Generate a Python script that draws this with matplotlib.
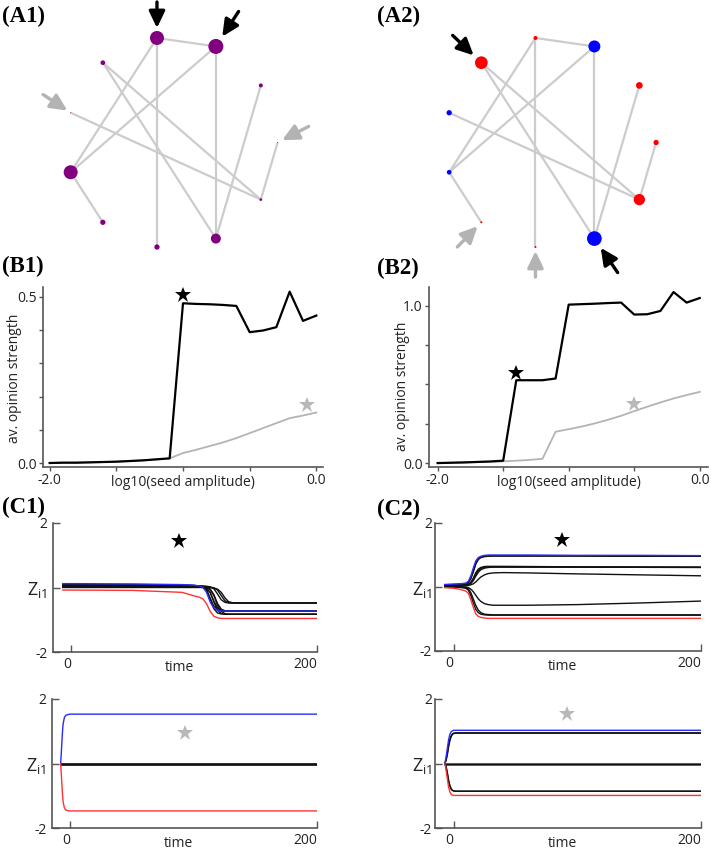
import numpy as np
import matplotlib
matplotlib.use("Agg")
import matplotlib.pyplot as plt

plt.rcParams['font.family'] = ['Open Sans', 'DejaVu Sans']
plt.rcParams['mathtext.fontset'] = 'custom'
plt.rcParams['mathtext.rm'] = 'Open Sans'

W, H = 711, 850

# ---------------- network data ----------------
n_nodes = 11
edges = [(0, 1), (0, 8), (0, 6), (1, 8), (1, 5), (10, 4), (10, 5), (9, 4), (3, 4), (2, 5), (8, 7)]
a1_sizes = [14, 15, 4, 1, 2.7, 10, 5.3, 5.3, 14, 1, 4.7]          # node diameters (px)
a1_colors = ['purple'] * 11
a2_sizes = [4, 12, 6.7, 5.3, 11.3, 14.7, 2, 2, 4.7, 5.3, 12.7]
a2_colors = ['red', 'blue', 'red', 'red', 'red', 'blue', 'red', 'red', 'blue', 'blue', 'red']
# arrows: (node, direction deg, gap px, length px, kind)
a1_arrows = [(0, 90, 10, 26, 'k'), (1, 57, 11.7, 30, 'k'), (9, 146.6, 4, 29, 'g'), (3, 27.4, 5, 30, 'g')]
a2_arrows = [(10, 136.4, 10.6, 29, 'k'), (5, -55.6, 11.2, 30, 'k'), (7, -134.2, 5.4, 29, 'g'), (6, -90, 4, 26, 'g')]

# ---------------- B panels data ----------------
x_amp = [-2.0, -1.9, -1.8, -1.7, -1.6, -1.5, -1.4, -1.3, -1.2, -1.1, -1.0,
         -0.9, -0.8, -0.7, -0.6, -0.5, -0.4, -0.3, -0.2, -0.1, 0.0]
b1_black = [0.000, 0.001, 0.001, 0.002, 0.003, 0.004, 0.006, 0.008, 0.011, 0.014, 0.481,
            0.479, 0.478, 0.476, 0.473, 0.394, 0.399, 0.409, 0.516, 0.428, 0.444]
b1_gray = [0.000, 0.001, 0.001, 0.002, 0.003, 0.004, 0.006, 0.008, 0.011, 0.014, 0.030,
           0.040, 0.051, 0.062, 0.075, 0.090, 0.105, 0.120, 0.135, 0.143, 0.152]
b2_black = [0.000, 0.002, 0.004, 0.007, 0.010, 0.015, 0.526, 0.526, 0.526, 0.537, 1.006,
            1.009, 1.012, 1.016, 1.019, 0.943, 0.945, 0.966, 1.086, 1.019, 1.048]
b2_gray = [0.000, 0.002, 0.004, 0.006, 0.008, 0.011, 0.015, 0.020, 0.027, 0.199, 0.215,
           0.232, 0.252, 0.275, 0.300, 0.330, 0.358, 0.385, 0.410, 0.432, 0.452]
b1_star_black = (-1.0, 0.506)
b1_star_gray = (-0.07, 0.175)
b2_star_black = (-1.4, 0.573)
b2_star_gray = (-0.5, 0.378)

# ---------------- C panels data ----------------
t_c1a = [-7, 0, 50, 90, 100, 104, 107, 110, 113, 116, 119, 122, 125, 128, 131, 134, 140, 200]
c1a_blue = [0.12, 0.12, 0.11, 0.09, 0.07, 0.05, 0.01, -0.15, -0.45, -0.64, -0.71, -0.73, -0.73, -0.73, -0.73, -0.73, -0.73, -0.73]
c1a_red = [-0.08, -0.08, -0.09, -0.15, -0.26, -0.30, -0.35, -0.50, -0.74, -0.89, -0.94, -0.96, -0.96, -0.96, -0.96, -0.96, -0.96, -0.96]
c1a_black = [
    [0.09, 0.09, 0.09, 0.08, 0.06, 0.04, 0.01, -0.08, -0.33, -0.58, -0.69, -0.72, -0.73, -0.73, -0.73, -0.73, -0.73, -0.73],
    [0.07, 0.07, 0.07, 0.07, 0.06, 0.05, 0.03, -0.02, -0.16, -0.42, -0.63, -0.71, -0.73, -0.73, -0.73, -0.73, -0.73, -0.73],
    [0.05, 0.05, 0.05, 0.05, 0.04, 0.03, 0.01, -0.06, -0.35, -0.66, -0.79, -0.82, -0.83, -0.83, -0.83, -0.83, -0.83, -0.83],
    [0.03, 0.03, 0.03, 0.03, 0.03, 0.02, 0.01, -0.03, -0.15, -0.45, -0.71, -0.80, -0.83, -0.83, -0.83, -0.83, -0.83, -0.83],
    [0.04, 0.04, 0.04, 0.04, 0.04, 0.04, 0.03, 0.01, -0.05, -0.22, -0.50, -0.67, -0.72, -0.73, -0.73, -0.73, -0.73, -0.73],
    [0.06, 0.06, 0.06, 0.06, 0.06, 0.05, 0.05, 0.04, 0.02, -0.04, -0.20, -0.38, -0.46, -0.48, -0.48, -0.48, -0.48, -0.48],
    [0.02, 0.02, 0.02, 0.02, 0.02, 0.02, 0.02, 0.02, 0.01, -0.01, -0.08, -0.25, -0.41, -0.47, -0.48, -0.48, -0.48, -0.48],
    [0.00, 0.00, 0.00, 0.00, 0.00, 0.00, 0.00, 0.00, 0.00, -0.02, -0.05, -0.15, -0.32, -0.44, -0.47, -0.48, -0.48, -0.48],
    [0.01, 0.01, 0.01, 0.01, 0.01, 0.01, 0.00, -0.01, -0.06, -0.25, -0.55, -0.74, -0.81, -0.83, -0.83, -0.83, -0.83, -0.83],
]
t_c1b = [-8, -7.5, -7, -6.5, -6, -5, -4, -2, 0, 200]
c1b_blue = [0.0, 0.30, 0.65, 0.98, 1.22, 1.42, 1.49, 1.52, 1.53, 1.53]
c1b_red = [0.0, -0.30, -0.63, -0.95, -1.18, -1.37, -1.44, -1.46, -1.47, -1.47]
c1b_black = [[0.0] * 10 for _ in range(9)]

t_c2a = [-7, 0, 5, 10, 12, 14, 16, 18, 20, 22, 25, 28, 32, 40, 60, 100, 150, 200]
c2a_blue = [0.08, 0.09, 0.10, 0.12, 0.18, 0.35, 0.60, 0.82, 0.92, 0.96, 0.99, 1.00, 1.00, 1.00, 1.00, 0.99, 0.99, 0.98]
c2a_red = [-0.02, -0.04, -0.07, -0.13, -0.20, -0.40, -0.64, -0.84, -0.92, -0.95, -0.97, -0.98, -0.98, -0.98, -0.98, -0.98, -0.98, -0.98]
c2a_black = [
    [0.06, 0.07, 0.08, 0.10, 0.14, 0.26, 0.48, 0.72, 0.86, 0.92, 0.95, 0.96, 0.97, 0.97, 0.97, 0.97, 0.96, 0.96],
    [0.07, 0.08, 0.09, 0.11, 0.15, 0.28, 0.50, 0.74, 0.87, 0.93, 0.96, 0.97, 0.97, 0.97, 0.97, 0.97, 0.96, 0.96],
    [0.05, 0.05, 0.06, 0.07, 0.09, 0.15, 0.28, 0.45, 0.56, 0.61, 0.64, 0.645, 0.645, 0.645, 0.64, 0.63, 0.625, 0.62],
    [0.04, 0.04, 0.05, 0.06, 0.07, 0.11, 0.20, 0.34, 0.46, 0.54, 0.59, 0.61, 0.62, 0.62, 0.62, 0.62, 0.615, 0.61],
    [0.04, 0.04, 0.05, 0.06, 0.08, 0.13, 0.24, 0.40, 0.51, 0.58, 0.62, 0.63, 0.63, 0.63, 0.63, 0.625, 0.62, 0.615],
    [0.03, 0.03, 0.04, 0.04, 0.05, 0.07, 0.10, 0.16, 0.24, 0.31, 0.38, 0.42, 0.44, 0.45, 0.44, 0.41, 0.38, 0.35],
    [0.02, 0.02, 0.01, 0.00, -0.02, -0.07, -0.15, -0.26, -0.37, -0.45, -0.52, -0.55, -0.57, -0.57, -0.57, -0.55, -0.50, -0.44],
    [0.01, 0.01, 0.00, -0.02, -0.06, -0.18, -0.38, -0.58, -0.72, -0.80, -0.85, -0.86, -0.87, -0.87, -0.87, -0.87, -0.87, -0.87],
    [0.00, 0.00, -0.01, -0.04, -0.10, -0.27, -0.50, -0.70, -0.80, -0.85, -0.87, -0.88, -0.88, -0.88, -0.88, -0.88, -0.88, -0.88],
]
t_c2b = [-7, -6, -5, -4, -3, -2, -1, 0, 2, 5, 200]
c2b_blue = [0.0, 0.22, 0.48, 0.74, 0.90, 0.98, 1.01, 1.03, 1.03, 1.03, 1.03]
c2b_red = [0.0, -0.22, -0.48, -0.74, -0.88, -0.95, -0.98, -0.99, -0.99, -0.99, -0.99]
c2b_black = [
    [0.0, 0.12, 0.32, 0.56, 0.74, 0.85, 0.91, 0.94, 0.95, 0.95, 0.95],
    [0.0, 0.10, 0.28, 0.52, 0.71, 0.83, 0.90, 0.93, 0.94, 0.94, 0.94],
    [0.0] * 11, [0.0] * 11, [0.0] * 11, [0.0] * 11, [0.0] * 11,
    [0.0, -0.12, -0.32, -0.55, -0.70, -0.79, -0.83, -0.85, -0.86, -0.86, -0.86],
    [0.0, -0.10, -0.29, -0.52, -0.68, -0.78, -0.83, -0.85, -0.86, -0.86, -0.86],
]
c1a_star = (88, 1.45)
c1b_star = (93, 0.96)
c2a_star = (88, 1.48)
c2b_star = (92, 1.54)

# ---------------- drawing ----------------
fig = plt.figure(figsize=(W / 100, H / 100), dpi=100)
fig.patch.set_facecolor('white')


def pxax(x0, y0, x1, y1):
    return fig.add_axes([x0 / W, 1 - y1 / H, (x1 - x0) / W, (y1 - y0) / H])


NET_R = 105.6
NET_HALF = 140.0
GRAY_ARROW = '#b3b3b3'
colmap = {'purple': '#800080', 'red': '#ff0000', 'blue': '#0000ff'}


def draw_network(cx, cy, sizes, colors, arrows):
    ax = pxax(cx - NET_HALF, cy - NET_HALF, cx + NET_HALF, cy + NET_HALF)
    lim = NET_HALF / NET_R
    ax.set_xlim(-lim, lim)
    ax.set_ylim(-lim, lim)
    ax.axis('off')
    ang = np.deg2rad(90 + (np.arange(n_nodes) - 3) * 360.0 / n_nodes)
    xs, ys = np.sin(ang), np.cos(ang)
    for a, b in edges:
        ax.plot([xs[a], xs[b]], [ys[a], ys[b]], color='#cccccc', lw=1.6, zorder=1,
                solid_capstyle='butt')
    ax.scatter(xs, ys, s=[(d * 0.72) ** 2 for d in sizes],
               c=[colmap[c] for c in colors], linewidths=0, zorder=3)
    for node, deg, gap, length, kind in arrows:
        d = np.deg2rad(deg)
        ux, uy = np.cos(d), np.sin(d)
        tip = (xs[node] + ux * gap / NET_R, ys[node] + uy * gap / NET_R)
        tail = (xs[node] + ux * (gap + length) / NET_R, ys[node] + uy * (gap + length) / NET_R)
        col = 'black' if kind == 'k' else GRAY_ARROW
        ax.annotate('', xy=tip, xytext=tail, annotation_clip=False,
                    arrowprops=dict(arrowstyle='-|>,head_length=0.5,head_width=0.24',
                                    mutation_scale=20, lw=2.4, color=col,
                                    shrinkA=0, shrinkB=0))
    return ax


draw_network(172, 142.5, a1_sizes, a1_colors, a1_arrows)
draw_network(550.5, 142.5, a2_sizes, a2_colors, a2_arrows)

SPINE = '#555555'


def style_b(ax, xlim, ylim, yticks, ylabels, ylab_xy):
    ax.set_xlim(*xlim)
    ax.set_ylim(*ylim)
    for s in ('top', 'right'):
        ax.spines[s].set_visible(False)
    for s in ('left', 'bottom'):
        ax.spines[s].set_color(SPINE)
        ax.spines[s].set_linewidth(1.2)
    ax.set_xticks([-2.0, -1.5, -1.0, -0.5, 0.0])
    ax.set_xticklabels(['-2.0', '', '', '', '0.0'])
    ax.set_yticks(yticks)
    ax.set_yticklabels(ylabels)
    ax.tick_params(direction='out', length=3, width=1, color=SPINE, labelsize=10,
                   labelcolor='#222222', pad=1.5)
    ax.set_xlabel('log10(seed amplitude)', fontsize=10, color='#222222')
    ax.xaxis.set_label_coords(0.5, -0.045)
    ax.set_ylabel('av. opinion strength', fontsize=10, color='#222222')
    ax.yaxis.set_label_coords(*ylab_xy)


axB1 = pxax(43, 287, 323, 467)
axB1.plot(x_amp, b1_gray, color='#b4b4b4', lw=1.3, zorder=2)
axB1.plot(x_amp, b1_black, color='black', lw=1.6, zorder=3)
axB1.plot(*b1_star_black, marker='*', ms=12, color='black', mew=0, zorder=4)
axB1.plot(*b1_star_gray, marker='*', ms=12, color='#b8b8b8', mew=0, zorder=4)
style_b(axB1, (-2.05, 0.05), (-0.012, 0.53), [0, 0.1, 0.2, 0.3, 0.4, 0.5],
        ['0.0', '', '', '', '', '0.5'], (-0.075, 0.49))

axB2 = pxax(429, 287, 708, 467)
axB2.plot(x_amp, b2_gray, color='#b4b4b4', lw=1.3, zorder=2)
axB2.plot(x_amp, b2_black, color='black', lw=1.6, zorder=3)
axB2.plot(*b2_star_black, marker='*', ms=12, color='black', mew=0, zorder=4)
axB2.plot(*b2_star_gray, marker='*', ms=12, color='#b8b8b8', mew=0, zorder=4)
style_b(axB2, (-2.066, 0.063), (-0.025, 1.118), [0, 0.25, 0.5, 0.75, 1.0],
        ['0.0', '', '', '', '1.0'], (-0.068, 0.45))

BLUE = '#2a2aff'
RED = '#ff3333'


def draw_c(box, t, blacks, blue, red, star, star_col, ypad):
    ax = pxax(*box)
    for v in blacks:
        ax.plot(t, v, color='#111111', lw=1.0, zorder=2)
    ax.plot(t, blue, color=BLUE, lw=1.0, zorder=3)
    ax.plot(t, red, color=RED, lw=1.0, zorder=3)
    ax.plot(*star, marker='*', ms=12, color=star_col, mew=0, zorder=4)
    ax.set_xlim(-15, 200)
    ax.set_ylim(-2, 2)
    for s in ('top', 'right'):
        ax.spines[s].set_visible(False)
    for s in ('left', 'bottom'):
        ax.spines[s].set_color(SPINE)
        ax.spines[s].set_linewidth(1.2)
    ax.set_xticks([0, 200])
    ax.set_xticklabels(['0', '200'])
    for lbl in ax.get_xticklabels():
        lbl.set_horizontalalignment('right')
    ax.set_yticks([-2, 0, 2])
    ax.set_yticklabels(['-2', r'Z$_{\mathregular{i1}}$', '2'])
    ax.tick_params(direction='in', length=5, width=1, color=SPINE, labelsize=10,
                   labelcolor='#222222')
    ax.tick_params(axis='y', pad=ypad)
    ax.get_yticklabels()[1].set_fontsize(13)
    ax.set_xlabel('time', fontsize=10, color='#222222')
    ax.xaxis.set_label_coords(0.478, -0.06)
    return ax


draw_c((53, 523, 317, 652), t_c1a, c1a_black, c1a_blue, c1a_red, c1a_star, 'black', 4)
draw_c((52, 699, 317, 828), t_c1b, c1b_black, c1b_blue, c1b_red, c1b_star, '#b8b8b8', 4)
draw_c((435, 523, 701, 651), t_c2a, c2a_black, c2a_blue, c2a_red, c2a_star, 'black', 2)
draw_c((435, 699, 701, 828), t_c2b, c2b_black, c2b_blue, c2b_red, c2b_star, '#b8b8b8', 2)

# panel labels
for txt, x, y in [('(A1)', 2, 16), ('(A2)', 377, 16), ('(B1)', 2, 266), ('(B2)', 377, 268),
                  ('(C1)', 2, 507), ('(C2)', 377, 509)]:
    fig.text(x / W, 1 - y / H, txt, fontsize=16.5, fontweight='bold',
             family='Liberation Serif', ha='left', va='center', color='black')

fig.savefig('out.png', dpi=100, facecolor='white')
